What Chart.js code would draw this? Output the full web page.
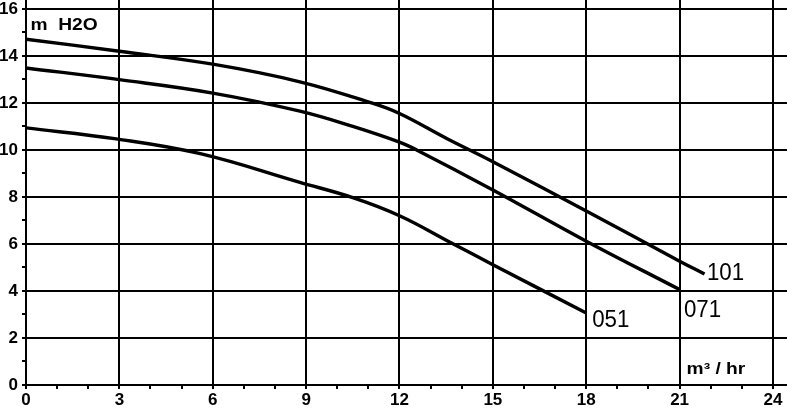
<!DOCTYPE html>
<html><head><meta charset="utf-8">
<script src="https://cdn.jsdelivr.net/npm/chart.js@4.4.1/dist/chart.umd.min.js"></script>
<style>html,body{margin:0;padding:0;background:#fff}#wrap{width:787px;height:409px;position:relative}</style>
</head><body><div id="wrap"><canvas id="c"></canvas></div>
<script>
// ---- data ----
const seriesNames = ['101', '071', '051'];
const flow101 = [0, 3, 6, 8.8, 11.1, 12, 13.5, 15, 18, 21, 21.8];
const head101 = [14.71, 14.2, 13.65, 12.9, 12.0, 11.55, 10.5, 9.5, 7.4, 5.27, 4.72];
const flow071 = [0, 3, 6, 8.8, 10.5, 12, 12.55, 15, 18, 21];
const head071 = [13.49, 12.99, 12.42, 11.65, 11.0, 10.33, 10.0, 8.3, 6.12, 4.06];
const flow051 = [0, 2.9, 5.6, 8.8, 10.5, 12, 13.7, 15, 18];
const head051 = [10.94, 10.47, 9.84, 8.62, 7.97, 7.2, 6.02, 5.12, 3.06];
const xMajorTicks = [0, 3, 6, 9, 12, 15, 18, 21, 24];
const xTickLabels = ['0', '3', '6', '9', '12', '15', '18', '21', '24'];
const yMajorTicks = [0, 2, 4, 6, 8, 10, 12, 14, 16];
const yTickLabels = ['0', '2', '4', '6', '8', '10', '12', '14', '16'];
const yAxisTitle = 'm  H2O';
const xAxisTitle = 'm³ / hr';

// ---- helpers ----
const pts = (xs, ys) => xs.map((x, i) => ({x: x, y: ys[i]}));
const minorTicks = (max) => { const a = []; for (let v = 0; v <= max; v++) a.push({value: v}); return a; };
const FONT = '"Liberation Sans", Arial, Helvetica, sans-serif';
const labelOffsets = [[2.4, 6.3], [4.3, 27.4], [5.9, 13.6]];

function stretchedText(ctx, text, x, y, sx) {
  ctx.save();
  ctx.translate(x, y);
  ctx.scale(sx, 1);
  ctx.fillText(text, 0, 0);
  ctx.restore();
}

const annot = {
  id: 'annot',
  afterDatasetsDraw(chart) {
    const ctx = chart.ctx, xs = chart.scales.x, ys = chart.scales.y, ca = chart.chartArea;
    ctx.save();
    ctx.fillStyle = '#000';
    ctx.textAlign = 'left';
    ctx.textBaseline = 'alphabetic';
    ctx.font = '24px ' + FONT;
    chart.data.datasets.forEach((ds, i) => {
      const last = ds.data[ds.data.length - 1];
      stretchedText(ctx, ds.label, xs.getPixelForValue(last.x) + labelOffsets[i][0], ys.getPixelForValue(last.y) + labelOffsets[i][1], 0.93);
    });
    ctx.font = 'bold 16px ' + FONT;
    stretchedText(ctx, yAxisTitle, ca.left + 4.5, ca.top + 30, 1.2);
    stretchedText(ctx, xAxisTitle, xs.getPixelForValue(21) + 7, ca.bottom - 11, 1.2);
    ctx.restore();
  }
};

const lineStyle = {borderColor: '#000', borderWidth: 3.4, pointRadius: 0, fill: false, tension: 0.4, borderCapStyle: 'butt'};

new Chart(document.getElementById('c'), {
  type: 'line',
  data: {
    datasets: [
      Object.assign({label: seriesNames[0], data: pts(flow101, head101)}, lineStyle),
      Object.assign({label: seriesNames[1], data: pts(flow071, head071)}, lineStyle),
      Object.assign({label: seriesNames[2], data: pts(flow051, head051)}, lineStyle)
    ]
  },
  options: {
    responsive: true,
    maintainAspectRatio: false,
    animation: false,
    layout: {padding: 0},
    plugins: {legend: {display: false}, tooltip: {enabled: false}},
    scales: {
      x: {
        type: 'linear', min: 0, max: 24.45,
        afterBuildTicks: s => { s.ticks = minorTicks(24); },
        afterFit: s => { s.height = 24; s.paddingLeft = 0; s.paddingRight = 0; s.paddingTop = 0; s.paddingBottom = 0; },
        border: {display: true, color: '#000', width: 2},
        grid: {
          color: c => (c.tick && xMajorTicks.includes(c.tick.value)) ? '#000' : 'rgba(0,0,0,0)',
          tickColor: '#000', lineWidth: 2, tickLength: 4, drawTicks: true
        },
        ticks: {
          autoSkip: false, maxRotation: 0, padding: 1, color: '#000',
          font: {family: FONT, size: 17, weight: 'bold'},
          callback: v => { const k = xMajorTicks.indexOf(v); return k >= 0 ? xTickLabels[k] : ''; }
        }
      },
      y: {
        type: 'linear', min: 0, max: 16.38,
        afterBuildTicks: s => { s.ticks = minorTicks(16); },
        afterFit: s => { s.width = 26; s.paddingLeft = 0; s.paddingRight = 0; s.paddingTop = 0; s.paddingBottom = 0; },
        border: {display: true, color: '#000', width: 2},
        grid: {
          color: c => (c.tick && yMajorTicks.includes(c.tick.value)) ? '#000' : 'rgba(0,0,0,0)',
          tickColor: '#000', lineWidth: 2, tickLength: 4, drawTicks: true
        },
        ticks: {
          autoSkip: false, padding: 4, color: '#000',
          font: {family: FONT, size: 17, weight: 'bold'},
          callback: v => { const k = yMajorTicks.indexOf(v); return k >= 0 ? yTickLabels[k] : ''; }
        }
      }
    }
  },
  plugins: [annot]
});
</script>
</body></html>
